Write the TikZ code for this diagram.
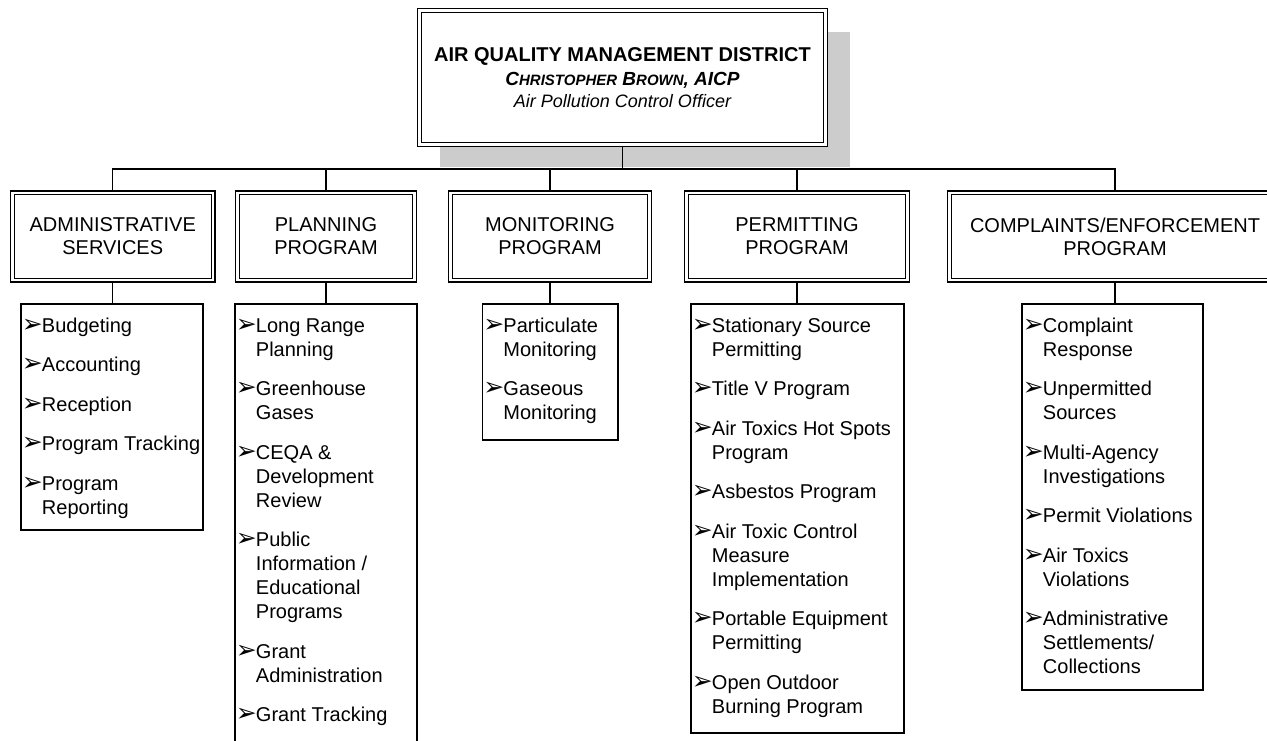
\documentclass[tikz,border=0pt]{standalone}
\usepackage{fontspec}
\setmainfont{Liberation Sans}
\newfontfamily\dingfont{DejaVu Sans}
\usetikzlibrary{backgrounds}
\newcommand{\bul}{\strut\makebox[21pt][l]{\hspace{1pt}{\dingfont\fontsize{25}{25}\selectfont ➢}}}
\newcommand{\cont}{\strut\hspace*{21pt}}
\newcommand{\nx}{\\[15.5pt]}
\begin{document}
\begin{tikzpicture}[x=1pt,y=-1pt,
  conn/.style={line width=1.3pt, draw=black},
  dbox/.style={draw=black, line width=1.2pt, double=white, double distance=2.6pt, fill=white, inner sep=0pt, align=center, font=\fontsize{20}{23}\selectfont},
  lbox/.style={draw=black, line width=1.5pt, fill=white, inner sep=0pt},
  ltext/.style={inner sep=0pt, align=left, anchor=north west, font=\fontsize{20}{24}\selectfont},
  shadowfill/.style={fill=black!20}]
\useasboundingbox (0,0) rectangle (1267,741);
\clip (0,0) rectangle (1267,741);

% top box
\node[dbox, minimum width=406, minimum height=134, font=\fontsize{18}{22}\selectfont] (top) at (622.5,77.5)
 {{\fontsize{20}{24}\selectfont\bfseries AIR QUALITY MANAGEMENT DISTRICT}\\[2pt]
  {\bfseries\itshape\fontsize{19}{22}\selectfont C{\fontsize{15}{22}\selectfont HRISTOPHER} B{\fontsize{15}{22}\selectfont ROWN}, AICP}\\
  {\itshape Air Pollution Control Officer}};

% department boxes
\node[dbox, minimum width=200.5, minimum height=87] (adm) at (112.75,236.5) {ADMINISTRATIVE\\SERVICES};
\node[dbox, minimum width=177, minimum height=87] (pln) at (326,236.5) {PLANNING\\PROGRAM};
\node[dbox, minimum width=199, minimum height=87] (mon) at (550,236.5) {MONITORING\\PROGRAM};
\node[dbox, minimum width=221, minimum height=87] (prm) at (797,236.5) {PERMITTING\\PROGRAM};
\node[dbox, minimum width=331, minimum height=87] (cmp) at (1115,236.5) {COMPLAINTS/ENFORCEMENT\\PROGRAM};

% list boxes
\node[lbox, minimum width=182, minimum height=226] (adml) at (112,417) {};
\node[lbox, minimum width=182, minimum height=456] (plnl) at (326,532) {};
\node[lbox, minimum width=135.5, minimum height=136] (monl) at (550.25,372) {};
\node[lbox, minimum width=213, minimum height=429] (prml) at (797.5,518.5) {};
\node[lbox, minimum width=181, minimum height=386] (cmpl) at (1112.5,497) {};

% list texts
\node[ltext] (admt) at ([shift={(0.5,12.2)}]adml.north west)
 {\bul Budgeting\nx \bul Accounting\nx \bul Reception\nx \bul Program Tracking\nx \bul Program\\\cont Reporting};
\node[ltext] (plnt) at ([shift={(0.5,12.2)}]plnl.north west)
 {\bul Long Range\\\cont Planning\nx \bul Greenhouse\\\cont Gases\nx \bul CEQA \&\\\cont Development\\\cont Review\nx
  \bul Public\\\cont Information /\\\cont Educational\\\cont Programs\nx \bul Grant\\\cont Administration\nx \bul Grant Tracking};
\node[ltext] (mont) at ([shift={(0.5,12.2)}]monl.north west)
 {\bul Particulate\\\cont Monitoring\nx \bul Gaseous\\\cont Monitoring};
\node[ltext] (prmt) at ([shift={(0.5,12.2)}]prml.north west)
 {\bul Stationary Source\\\cont Permitting\nx \bul Title V Program\nx \bul Air Toxics Hot Spots\\\cont Program\nx
  \bul Asbestos Program\nx \bul Air Toxic Control\\\cont Measure\\\cont Implementation\nx
  \bul Portable Equipment\\\cont Permitting\nx \bul Open Outdoor\\\cont Burning Program};
\node[ltext] (cmpt) at ([shift={(0.5,12.2)}]cmpl.north west)
 {\bul Complaint\\\cont Response\nx \bul Unpermitted\\\cont Sources\nx \bul Multi-Agency\\\cont Investigations\nx
  \bul Permit Violations\nx \bul Air Toxics\\\cont Violations\nx \bul Administrative\\\cont Settlements/\\\cont Collections};

\begin{pgfonlayer}{background}
  \fill[shadowfill] ([shift={(21,22)}]top.north west) rectangle ([shift={(24,22)}]top.south east);
  \coordinate (bus) at (622.5,169);
  \draw[conn] (top.south) -- (bus);
  \draw[conn] (adm.north) |- (bus) -| (cmp.north);
  \foreach \n in {pln,mon,prm} \draw[conn] (\n.north) -- (\n.north |- bus);
  \foreach \a/\b in {adm/adml,pln/plnl,mon/monl,prm/prml,cmp/cmpl} \draw[conn] (\a.south) -- (\a.south |- \b.north);
\end{pgfonlayer}
\end{tikzpicture}
\end{document}
